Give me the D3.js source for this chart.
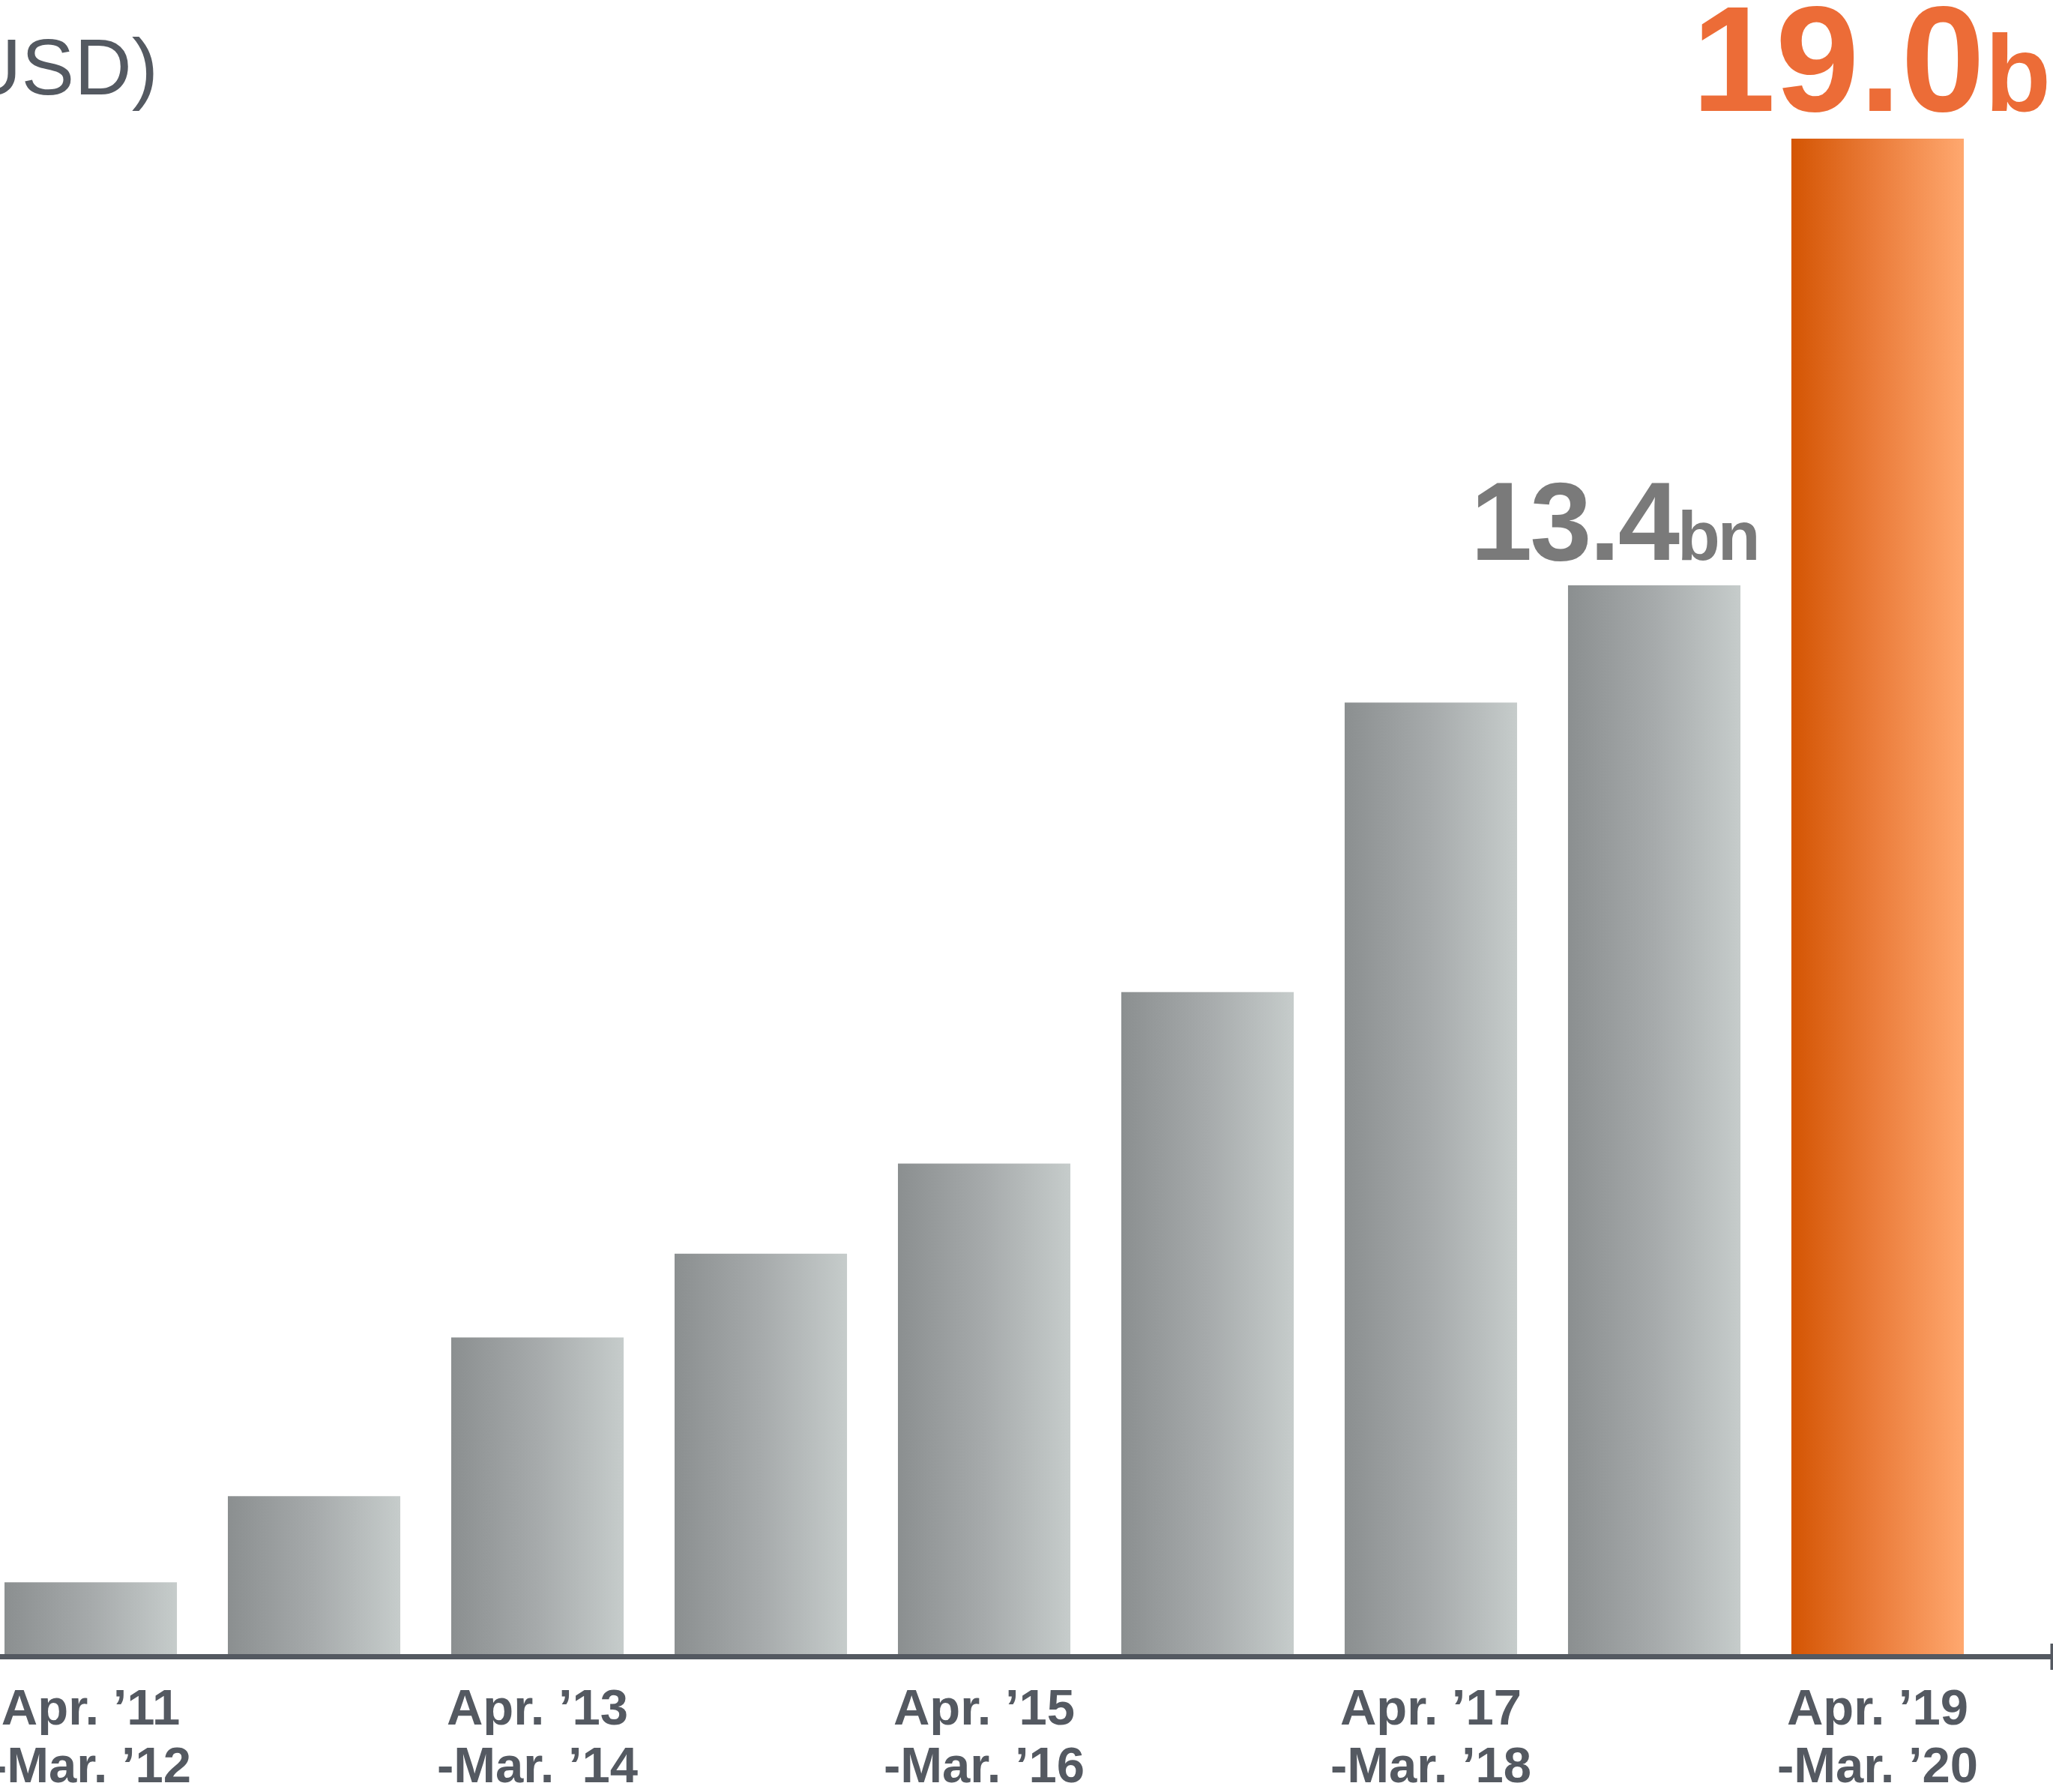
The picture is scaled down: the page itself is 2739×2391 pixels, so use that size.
<!DOCTYPE html>
<html>
<head>
<meta charset="utf-8">
<script src="https://cdn.jsdelivr.net/npm/d3@7"></script>
<style>
  html, body { margin: 0; padding: 0; background: #ffffff; overflow: hidden; }
  svg { display: block; }
  text { font-family: "Liberation Sans", Arial, sans-serif; }
</style>
</head>
<body>
<svg id="chart" width="2739" height="2391"></svg>
<script>
// Fiscal-year periods (April to March)
const periods = ["FY11", "FY12", "FY13", "FY14", "FY15", "FY16", "FY17", "FY18", "FY19"];
// Value per period, billions of USD
const values = [0.90, 1.98, 3.97, 5.02, 6.15, 8.30, 11.93, 13.4, 19.0];
// Two-line period labels shown under every other bar
const labelLine1 = ["Apr. \u201911", "", "Apr. \u201913", "", "Apr. \u201915", "", "Apr. \u201917", "", "Apr. \u201919"];
const labelLine2 = ["-Mar. \u201912", "", "-Mar. \u201914", "", "-Mar. \u201916", "", "-Mar. \u201918", "", "-Mar. \u201920"];
// Value callouts: number and unit
const calloutNumber = ["", "", "", "", "", "", "", "13.4", "19.0"];
const calloutUnit = ["", "", "", "", "", "", "", "bn", "bn"];

const W = 2739, H = 2391;
const baseY = 2207;
const svg = d3.select("#chart");

const x = d3.scaleBand()
  .domain(periods)
  .range([6, 2620])
  .paddingInner(0.228)
  .paddingOuter(0);

const y = d3.scaleLinear()
  .domain([0, 19.0])
  .range([baseY, 185]);

const defs = svg.append("defs");
const gGray = defs.append("linearGradient").attr("id", "gradGray")
  .attr("x1", "0%").attr("x2", "100%").attr("y1", "0%").attr("y2", "0%");
gGray.append("stop").attr("offset", "0%").attr("stop-color", "#8b8f90");
gGray.append("stop").attr("offset", "50%").attr("stop-color", "#a6aaab");
gGray.append("stop").attr("offset", "100%").attr("stop-color", "#c6cccb");

const gOrange = defs.append("linearGradient").attr("id", "gradOrange")
  .attr("x1", "0%").attr("x2", "100%").attr("y1", "0%").attr("y2", "0%");
gOrange.append("stop").attr("offset", "0%").attr("stop-color", "#d45503");
gOrange.append("stop").attr("offset", "50%").attr("stop-color", "#eb7d3b");
gOrange.append("stop").attr("offset", "100%").attr("stop-color", "#ffa86f");

const lastIdx = periods.length - 1;

// Bars
svg.append("g").selectAll("rect")
  .data(periods)
  .join("rect")
  .attr("x", d => x(d))
  .attr("y", (d, i) => y(values[i]))
  .attr("width", x.bandwidth())
  .attr("height", (d, i) => baseY - y(values[i]))
  .attr("fill", (d, i) => i === lastIdx ? "url(#gradOrange)" : "url(#gradGray)");

// Baseline axis with end tick
svg.append("line")
  .attr("x1", 0).attr("x2", W)
  .attr("y1", baseY + 3.5).attr("y2", baseY + 3.5)
  .attr("stroke", "#545961").attr("stroke-width", 7);
svg.append("line")
  .attr("x1", W - 1.5).attr("x2", W - 1.5)
  .attr("y1", 2193).attr("y2", 2228)
  .attr("stroke", "#545961").attr("stroke-width", 4);

// Period labels
const lab = svg.append("g")
  .attr("fill", "#545961")
  .attr("font-weight", "bold")
  .attr("font-size", 67)
  .attr("text-anchor", "middle");
periods.forEach((p, i) => {
  if (!labelLine1[i]) return;
  const cx = x(p) + x.bandwidth() / 2;
  lab.append("text").attr("x", cx).attr("y", 2301).text(labelLine1[i]);
  lab.append("text").attr("x", cx).attr("y", 2378).text(labelLine2[i]);
});

// Value callouts above the last two bars
const calloutStyle = {
  7: { color: "#7a7a7a", numSize: 148, unitSize: 93, gap: 34, dx: -130, spacing: -3 },
  8: { color: "#ec6c37", numSize: 201, unitSize: 144, gap: 37, dx: -133, spacing: 0 }
};
periods.forEach((p, i) => {
  if (!calloutNumber[i]) return;
  const s = calloutStyle[i];
  const t = svg.append("text")
    .attr("x", x(p) + s.dx)
    .attr("y", y(values[i]) - s.gap)
    .attr("fill", s.color)
    .attr("font-weight", "bold")
    .attr("letter-spacing", s.spacing)
    .attr("text-anchor", "start");
  t.append("tspan").attr("font-size", s.numSize).text(calloutNumber[i]);
  t.append("tspan").attr("font-size", s.unitSize).text(calloutUnit[i]);
});

// Unit caption, top left
svg.append("text")
  .attr("x", 211)
  .attr("y", 126)
  .attr("text-anchor", "end")
  .attr("fill", "#545961")
  .attr("font-size", 106)
  .text("(USD)");
</script>
</body>
</html>
